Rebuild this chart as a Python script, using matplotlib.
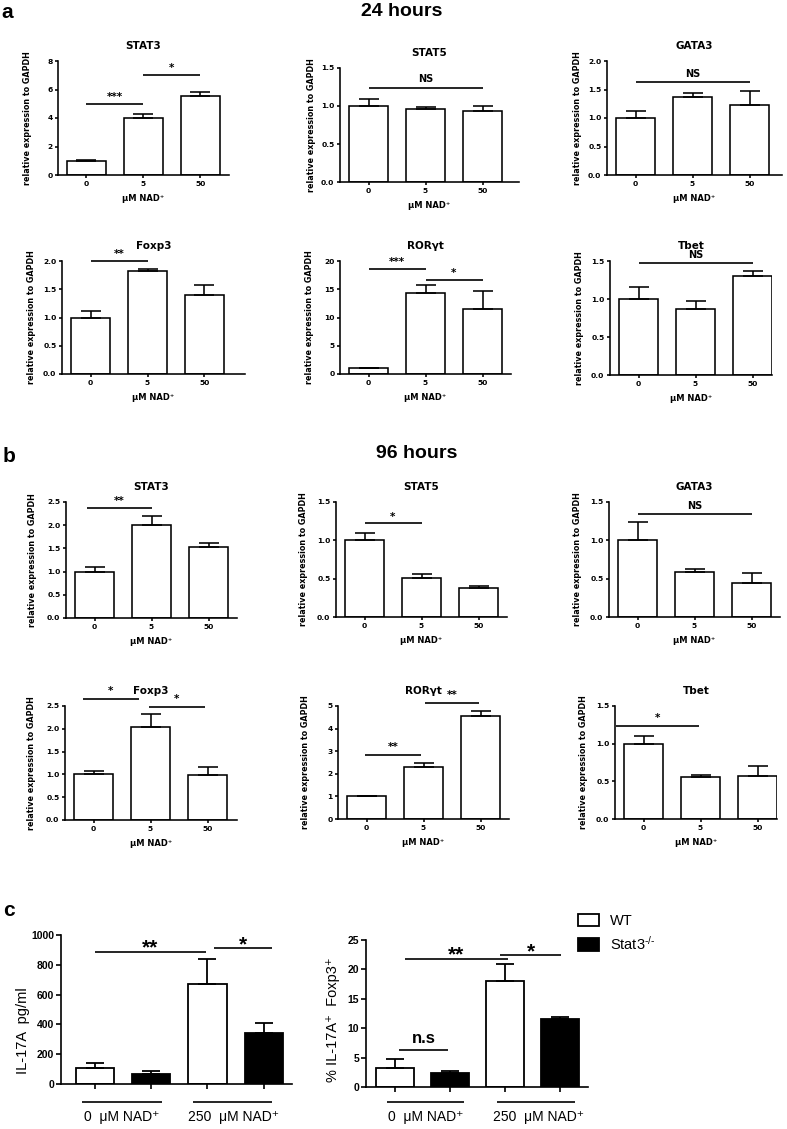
import numpy as np
import matplotlib
matplotlib.use("Agg")
import matplotlib.pyplot as plt

W, H = 787, 1129

plt.rcParams['font.family'] = ['Liberation Sans', 'DejaVu Sans']
plt.rcParams['mathtext.fontset'] = 'custom'
plt.rcParams['mathtext.rm'] = 'Liberation Sans'
plt.rcParams['mathtext.it'] = 'Liberation Sans:italic'
plt.rcParams['mathtext.bf'] = 'Liberation Sans:bold'

doses = ['0', '5', '50']

# a - 24 hours (mean, SEM)
stat3_24 = [1.00, 4.00, 5.55]
stat3_24_err = [0.05, 0.28, 0.28]
stat5_24 = [1.00, 0.96, 0.94]
stat5_24_err = [0.09, 0.03, 0.06]
gata3_24 = [1.00, 1.36, 1.23]
gata3_24_err = [0.13, 0.07, 0.24]
foxp3_24 = [1.00, 1.82, 1.40]
foxp3_24_err = [0.12, 0.03, 0.18]
rorgt_24 = [1.00, 14.4, 11.5]
rorgt_24_err = [0.15, 1.3, 3.2]
tbet_24 = [1.00, 0.87, 1.30]
tbet_24_err = [0.16, 0.10, 0.07]

# b - 96 hours
stat3_96 = [1.00, 2.00, 1.54]
stat3_96_err = [0.09, 0.20, 0.08]
stat5_96 = [1.00, 0.51, 0.38]
stat5_96_err = [0.09, 0.05, 0.03]
gata3_96 = [1.00, 0.59, 0.44]
gata3_96_err = [0.24, 0.04, 0.14]
foxp3_96 = [1.00, 2.04, 0.99]
foxp3_96_err = [0.07, 0.28, 0.17]
rorgt_96 = [1.00, 2.32, 4.55]
rorgt_96_err = [0.02, 0.14, 0.22]
tbet_96 = [1.00, 0.56, 0.57]
tbet_96_err = [0.10, 0.02, 0.13]

# significance bars: (x from, x to, line y, text y, label)
sig_stat3_24 = [(0, 1, 5.0, 5.45, '***'), (1, 2, 7.0, 7.5, '*')]
sig_stat5_24 = [(0, 2, 1.24, 1.36, 'NS')]
sig_gata3_24 = [(0, 2, 1.63, 1.78, 'NS')]
sig_foxp3_24 = [(0, 1, 2.0, 2.12, '**')]
sig_rorgt_24 = [(0, 1, 18.6, 19.8, '***'), (1, 2, 16.6, 17.8, '*')]
sig_tbet_24 = [(0, 2, 1.47, 1.58, 'NS')]
sig_stat3_96 = [(-0.14, 1, 2.37, 2.53, '**')]
sig_stat5_96 = [(0, 1, 1.23, 1.31, '*')]
sig_gata3_96 = [(0, 2, 1.34, 1.45, 'NS')]
sig_foxp3_96 = [(-0.19, 0.8, 2.65, 2.83, '*'), (0.97, 1.95, 2.48, 2.66, '*')]
sig_rorgt_96 = [(-0.03, 0.95, 2.83, 3.2, '**'), (1.02, 1.98, 5.13, 5.48, '**')]
sig_tbet_96 = [(-0.48, 0.98, 1.23, 1.34, '*')]

# c
groups = ['0  \u03bcM NAD\u207a', '250  \u03bcM NAD\u207a']
il17_wt = [107, 670]
il17_wt_err = [35, 168]
il17_ko = [68, 342]
il17_ko_err = [22, 68]
pct_wt = [3.2, 18.0]
pct_wt_err = [1.6, 2.9]
pct_ko = [2.4, 11.6]
pct_ko_err = [0.3, 0.3]

sig_il17 = [(0, 1.98, 886, 913, '**'), (2.11, 3.14, 913, 933, '*')]
sig_pct = [(0.18, 2.05, 21.8, 22.4, '**'), (1.91, 3.02, 22.4, 23.0, '*'),
           (0.07, 0.96, 6.3, 8.2, 'n.s')]

fig = plt.figure(figsize=(W / 100, H / 100), dpi=100)

BOLD = dict(family=['DejaVu Sans'], weight='bold')


def px_axes(l, r, t, b):
    return fig.add_axes([l / W, 1 - b / H, (r - l) / W, (b - t) / H])


def expr_panel(box, title, vals, errs, yticks, sigs, ylab_off=30):
    l, r, t, b = box
    ax = px_axes(l, r, t, b)
    x = np.arange(len(doses))
    ax.bar(x, vals, width=0.68, color='white', edgecolor='black', linewidth=1.15, zorder=2)
    ax.errorbar(x, vals, yerr=[np.zeros(len(vals)), errs], fmt='none', ecolor='black',
                elinewidth=1.15, capsize=7.0, capthick=1.15, zorder=3)
    ax.set_xlim(-0.5, -0.5 + (r - l) / 57.0)
    ax.set_ylim(yticks[0], yticks[-1])
    ax.set_yticks(yticks)
    if all(float(v).is_integer() for v in yticks):
        labs = ['%d' % v for v in yticks]
    else:
        labs = ['%.1f' % v for v in yticks]
    ax.set_yticklabels(labs, fontsize=5.4, **BOLD)
    ax.set_xticks(x)
    ax.set_xticklabels(doses, fontsize=5.4, **BOLD)
    for s in ['top', 'right']:
        ax.spines[s].set_visible(False)
    for s in ['left', 'bottom']:
        ax.spines[s].set_linewidth(1.15)
    ax.tick_params(axis='both', direction='out', length=2.5, width=1.15, pad=1.5)
    ax.set_xlabel('\u03bcM NAD\u207a', fontsize=6, labelpad=5.5, **BOLD)
    ax.text(-ylab_off / (r - l), 0.5, 'relative expression to GAPDH', transform=ax.transAxes,
            rotation=90, ha='center', va='center', fontsize=5.8, **BOLD)
    ax.set_title(title, fontsize=7.5, pad=8.5, **BOLD)
    for x1, x2, yl, yt, lab in sigs:
        ax.plot([x1, x2], [yl, yl], color='black', lw=1.2, clip_on=False, solid_capstyle='butt')
        ax.text((x1 + x2) / 2, yt, lab, ha='center', va='center', fontsize=7 if lab == 'NS' else 7.5,
                clip_on=False, **BOLD)
    return ax


# panel a
expr_panel((58, 229, 61, 175), 'STAT3', stat3_24, stat3_24_err, [0, 2, 4, 6, 8], sig_stat3_24)
expr_panel((340, 519, 68, 182), 'STAT5', stat5_24, stat5_24_err, [0, 0.5, 1.0, 1.5], sig_stat5_24, 28)
expr_panel((607, 782, 61, 175), 'GATA3', gata3_24, gata3_24_err, [0, 0.5, 1.0, 1.5, 2.0], sig_gata3_24, 29)
expr_panel((62, 245, 261, 374), 'Foxp3', foxp3_24, foxp3_24_err, [0, 0.5, 1.0, 1.5, 2.0], sig_foxp3_24)
expr_panel((340, 511, 261, 374), 'ROR\u03b3t', rorgt_24, rorgt_24_err, [0, 5, 10, 15, 20], sig_rorgt_24)
expr_panel((610, 772, 261, 375), 'Tbet', tbet_24, tbet_24_err, [0, 0.5, 1.0, 1.5], sig_tbet_24)

# panel b
expr_panel((66, 237, 502, 618), 'STAT3', stat3_96, stat3_96_err, [0, 0.5, 1.0, 1.5, 2.0, 2.5], sig_stat3_96, 33)
expr_panel((336, 507, 502, 617), 'STAT5', stat5_96, stat5_96_err, [0, 0.5, 1.0, 1.5], sig_stat5_96, 33)
expr_panel((609, 780, 502, 617), 'GATA3', gata3_96, gata3_96_err, [0, 0.5, 1.0, 1.5], sig_gata3_96, 32)
expr_panel((65, 237, 706, 820), 'Foxp3', foxp3_96, foxp3_96_err, [0, 0.5, 1.0, 1.5, 2.0, 2.5], sig_foxp3_96, 33)
expr_panel((338, 509, 706, 819), 'ROR\u03b3t', rorgt_96, rorgt_96_err, [0, 1, 2, 3, 4, 5], sig_rorgt_96, 32)
expr_panel((615, 777, 706, 819), 'Tbet', tbet_96, tbet_96_err, [0, 0.5, 1.0, 1.5], sig_tbet_96, 32)


def c_panel(box, spacing, x0, wt, wt_err, ko, ko_err, yticks, ylabel, ylab_xy, sigs,
            grp_lines, grp_y, grp_lab_x, grp_lab_y):
    l, r, t, b = box
    ax = px_axes(l, r, t, b)
    xw = np.array([0, 2])
    xk = np.array([1, 3])
    wt_bars = ax.bar(xw, wt, width=0.68, color='white', edgecolor='black', linewidth=1.3,
                     zorder=2, label='WT')
    ko_bars = ax.bar(xk, ko, width=0.68, color='black', edgecolor='black', linewidth=1.3,
                     zorder=2, label=r'Stat3$^{\text{-/-}}$')
    ax.errorbar(xw, wt, yerr=[np.zeros(2), wt_err], fmt='none', ecolor='black',
                elinewidth=1.3, capsize=6.8, capthick=1.3, zorder=3)
    ax.errorbar(xk, ko, yerr=[np.zeros(2), ko_err], fmt='none', ecolor='black',
                elinewidth=1.3, capsize=6.8, capthick=1.3, zorder=1)
    ax.set_xlim(x0, x0 + (r - l) / spacing)
    ax.set_ylim(yticks[0], yticks[-1])
    ax.set_yticks(yticks)
    ax.set_yticklabels(['%d' % v for v in yticks], fontsize=7.5, fontweight='bold')
    ax.set_xticks([0, 1, 2, 3])
    ax.set_xticklabels([])
    for s in ['top', 'right']:
        ax.spines[s].set_visible(False)
    for s in ['left', 'bottom']:
        ax.spines[s].set_linewidth(1.2)
    ax.tick_params(axis='both', direction='out', length=3.5, width=1.2, pad=1.5)
    ax.text(ylab_xy[0], ylab_xy[1], ylabel, transform=ax.transAxes, rotation=90,
            ha='center', va='center', fontsize=10.5)
    for x1, x2, yl, yt, lab in sigs:
        ax.plot([x1, x2], [yl, yl], color='black', lw=1.2, clip_on=False, solid_capstyle='butt')
        ax.text((x1 + x2) / 2, yt, lab, ha='center', va='center',
                fontsize=12 if lab == 'n.s' else 15, fontweight='bold', clip_on=False)
    for (x1, x2), lx, g in zip(grp_lines, grp_lab_x, groups):
        ax.plot([x1, x2], [grp_y, grp_y], color='black', lw=1.2, clip_on=False, solid_capstyle='butt')
        ax.text(lx, grp_lab_y, g, ha='center', va='center', fontsize=10, clip_on=False)
    return ax, wt_bars, ko_bars


c_panel((61, 292, 935, 1084), 56.3, -0.6, il17_wt, il17_wt_err, il17_ko, il17_ko_err,
        [0, 200, 400, 600, 800, 1000], 'IL-17A  pg/ml', (-38 / 231, 0.36), sig_il17,
        [(-0.23, 1.19), (1.74, 3.14)], -121, [0.48, 2.47], -221)
ax_c2, wt_bars, ko_bars = c_panel(
    (366, 588, 940, 1087), 55.0, -0.53, pct_wt, pct_wt_err, pct_ko, pct_ko_err,
    [0, 5, 10, 15, 20, 25], '% IL-17A\u207a  Foxp3\u207a', (-33 / 222, 0.46), sig_pct,
    [(-0.15, 1.25), (1.85, 3.27)], -2.55, [0.56, 2.6], -5.1)

fig.legend(handles=[wt_bars, ko_bars], loc='upper left', bbox_to_anchor=(578 / W, 1 - 914 / H),
           frameon=False, fontsize=10.5, handlelength=1.45, handleheight=0.9,
           handletextpad=0.75, labelspacing=0.45, borderpad=0, borderaxespad=0)

# panel letters and headings
fig.text(7 / W, 1 - 12 / H, 'a', fontsize=15, fontweight='bold', ha='center', va='center')
fig.text(9 / W, 1 - 456 / H, 'b', fontsize=15, fontweight='bold', ha='center', va='center')
fig.text(9 / W, 1 - 910 / H, 'c', fontsize=15, fontweight='bold', ha='center', va='center')
fig.text(402 / W, 1 - 12 / H, '24 hours', fontsize=14, fontweight='bold', ha='center', va='center')
fig.text(417 / W, 1 - 453 / H, '96 hours', fontsize=14, fontweight='bold', ha='center', va='center')

fig.savefig('out.png', dpi=100)
